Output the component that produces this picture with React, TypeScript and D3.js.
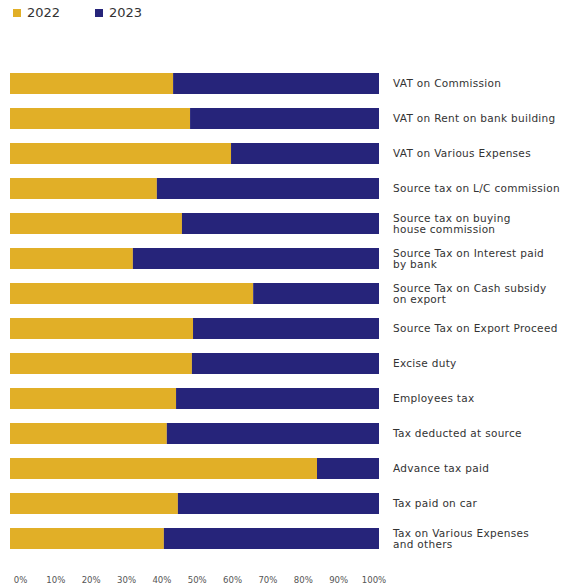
import React from "react";
import * as d3 from "d3";

const categories: string[][] = [
  ["VAT on Commission"],
  ["VAT on Rent on bank building"],
  ["VAT on Various Expenses"],
  ["Source tax on L/C commission"],
  ["Source tax on buying", "house commission"],
  ["Source Tax on Interest paid", "by bank"],
  ["Source Tax on Cash subsidy", "on export"],
  ["Source Tax on Export Proceed"],
  ["Excise duty"],
  ["Employees tax"],
  ["Tax deducted at source"],
  ["Advance tax paid"],
  ["Tax paid on car"],
  ["Tax on Various Expenses", "and others"],
];

const share2022: number[] = [44.2, 48.8, 59.9, 39.8, 46.6, 33.3, 65.9, 49.6, 49.3, 45.0, 42.5, 83.2, 45.5, 41.7];
const share2023: number[] = share2022.map((v) => 100 - v);

const seriesNames: string[] = ["2022", "2023"];
const seriesColors: string[] = ["#E1AF27", "#26247A"];
const tickValues: number[] = [0, 10, 20, 30, 40, 50, 60, 70, 80, 90, 100];

const W = 562;
const H = 586;

export default function App() {
  const keys = categories.map((c) => c.join(" "));
  const y = d3.scaleBand<string>().domain(keys).range([66, 556]).paddingInner(0.4).paddingOuter(0.2);
  const x = d3.scaleLinear().domain([0, 100]).range([10, 379]);
  const xTick = d3.scaleLinear().domain([0, 100]).range([20.5, 374]);

  const rows = keys.map((k, i) => ({ key: k, v2022: share2022[i], v2023: share2023[i] }));
  const stack = d3.stack<any>().keys(["v2022", "v2023"]);
  const layers = stack(rows);

  const labelFont = "'DejaVu Sans', sans-serif";

  return (
    <svg width={W} height={H} style={{ position: "absolute", left: 0, top: 0, background: "#fff" }}>
      {/* legend */}
      {seriesNames.map((name, i) => (
        <g key={name} transform={`translate(${13 + i * 82},0)`}>
          <rect x={0} y={9} width={8} height={8} fill={seriesColors[i]} />
          <text x={14} y={17} fontFamily={labelFont} fontSize={13} fill="#333">
            {name}
          </text>
        </g>
      ))}

      {/* bars */}
      {layers.map((layer, li) => (
        <g key={li} fill={seriesColors[li]}>
          {layer.map((d, i) => (
            <rect
              key={i}
              x={x(d[0])}
              y={y(keys[i])}
              width={x(d[1]) - x(d[0])}
              height={y.bandwidth()}
            />
          ))}
        </g>
      ))}

      {/* category labels */}
      {categories.map((lines, i) => {
        const cy = (y(keys[i]) as number) + y.bandwidth() / 2;
        const lh = 11;
        const firstBaseline = cy + 3.6 - ((lines.length - 1) * lh) / 2;
        return (
          <text key={i} fontFamily={labelFont} fontSize={10.5} letterSpacing={0.3} fill="#333">
            {lines.map((ln, j) => (
              <tspan key={j} x={393} y={firstBaseline + j * lh}>
                {ln}
              </tspan>
            ))}
          </text>
        );
      })}

      {/* x tick labels */}
      {tickValues.map((t) => (
        <text
          key={t}
          x={xTick(t)}
          y={583}
          textAnchor="middle"
          fontFamily="'Liberation Sans Narrow', 'DejaVu Sans Condensed', sans-serif"
          fontSize={9.5}
          fill="#555"
        >
          {`${t}%`}
        </text>
      ))}
    </svg>
  );
}
